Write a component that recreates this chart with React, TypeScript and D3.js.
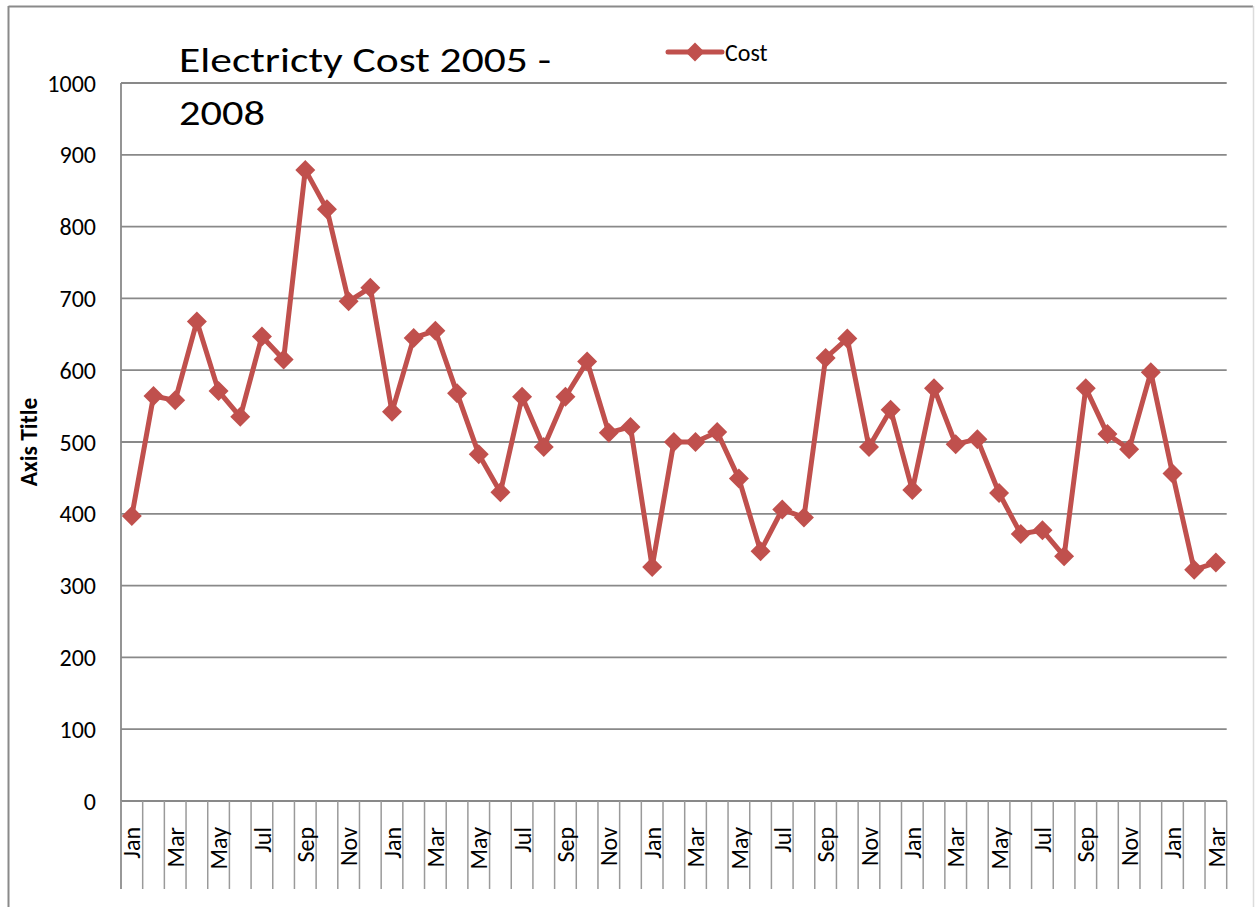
import React from "react";
import * as d3 from "d3";

const categories: string[] = [
  "Jan", "Feb", "Mar", "Apr", "May", "Jun", "Jul", "Aug", "Sep", "Oct", "Nov", "Dec",
  "Jan", "Feb", "Mar", "Apr", "May", "Jun", "Jul", "Aug", "Sep", "Oct", "Nov", "Dec",
  "Jan", "Feb", "Mar", "Apr", "May", "Jun", "Jul", "Aug", "Sep", "Oct", "Nov", "Dec",
  "Jan", "Feb", "Mar", "Apr", "May", "Jun", "Jul", "Aug", "Sep", "Oct", "Nov", "Dec",
  "Jan", "Feb", "Mar",
];

const cost: number[] = [
  397, 564, 558, 668, 571, 535, 647, 615, 879, 824, 696, 715,
  542, 645, 655, 568, 483, 430, 563, 493, 563, 612, 513, 521,
  326, 500, 500, 514, 449, 348, 406, 395, 617, 644, 493, 545,
  433, 575, 497, 504, 429, 372, 377, 341, 575, 511, 490, 597,
  456, 322, 332,
];

const yTicks: number[] = [0, 100, 200, 300, 400, 500, 600, 700, 800, 900, 1000];

const titleLines: string[] = ["Electricty Cost 2005 -", "2008"];
const seriesName = "Cost";
const yAxisTitle = "Axis Title";

const W = 1255;
const H = 907;
const PL = 121;
const PR = 1226.7;
const PT = 83;
const PB = 801;
const TICK_BOTTOM = 889;
const RED = "#C0504D";
const GRID = "#898989";
const FONT = "Carlito, Calibri, Lato, 'Open Sans', sans-serif";

const diamond = (r: number) => `M0,${-r}L${r},0L0,${r}L${-r},0Z`;

export default function App() {
  const x = d3.scaleBand<number>().domain(d3.range(categories.length)).range([PL, PR]).padding(0);
  const bw = x.bandwidth();
  const cx = (i: number) => (x(i) as number) + bw / 2;
  const y = d3.scaleLinear().domain([0, 1000]).range([PB, PT]);

  const line = d3
    .line<number>()
    .x((_, i) => cx(i))
    .y((d) => y(d));

  const boundaries = d3.range(categories.length + 1).map((i) => PL + i * bw);

  return (
    <div style={{ position: "absolute", left: 0, top: 0 }}>
      <svg width={W} height={H} style={{ display: "block", background: "#fff" }}>
        <rect x={0} y={0} width={W} height={H} fill="#fff" />
        {/* chart border */}
        <line x1={8.5} y1={6} x2={8.5} y2={H} stroke="#8a8a8a" strokeWidth={2} />
        <line x1={8.5} y1={6.5} x2={1253} y2={6.5} stroke="#8a8a8a" strokeWidth={2} />
        <line x1={1253.5} y1={6} x2={1253.5} y2={H} stroke="#dcdcdc" strokeWidth={1.5} />

        {/* gridlines */}
        {yTicks.map((t) => (
          <line key={t} x1={PL} x2={PR} y1={y(t)} y2={y(t)} stroke={GRID} strokeWidth={1.8} />
        ))}

        {/* y axis line */}
        <line x1={PL} x2={PL} y1={PT} y2={TICK_BOTTOM} stroke={GRID} strokeWidth={1.8} />

        {/* category boundary ticks */}
        {boundaries.map((bx, i) => (
          <line key={i} x1={bx} x2={bx} y1={PB} y2={TICK_BOTTOM} stroke="#9a9a9a" strokeWidth={1.5} />
        ))}

        {/* y tick labels */}
        {yTicks.map((t) => (
          <text
            key={t}
            x={96}
            y={y(t)}
            dy="0.36em"
            textAnchor="end"
            fontFamily={FONT}
            fontSize={24}
            fill="#000"
          >
            {t}
          </text>
        ))}

        {/* x labels (every other) */}
        {categories.map((c, i) =>
          i % 2 === 0 ? (
            <text
              key={i}
              transform={`translate(${cx(i)},827) rotate(-90)`}
              dy="0.36em"
              textAnchor="end"
              fontFamily={FONT}
              fontSize={24}
              fill="#000"
            >
              {c}
            </text>
          ) : null
        )}

        {/* axis title */}
        <text
          transform={`translate(29,442) rotate(-90)`}
          dy="0.36em"
          textAnchor="middle"
          fontFamily={FONT}
          fontWeight="bold"
          fontSize={23.5}
          fill="#000"
        >
          {yAxisTitle}
        </text>

        {/* series line */}
        <path
          d={line(cost) || ""}
          fill="none"
          stroke={RED}
          strokeWidth={5}
          strokeLinejoin="round"
          strokeLinecap="round"
        />
        {cost.map((v, i) => (
          <path key={i} d={diamond(10)} transform={`translate(${cx(i)},${y(v)})`} fill={RED} />
        ))}

        {/* title */}
        <text x={179} y={72} fontFamily={FONT} fontSize={35} fill="#000" textLength={372} lengthAdjust="spacingAndGlyphs">
          {titleLines[0]}
        </text>
        <text x={179} y={124.5} fontFamily={FONT} fontSize={35} fill="#000" textLength={86} lengthAdjust="spacingAndGlyphs">
          {titleLines[1]}
        </text>

        {/* legend */}
        <line x1={668} x2={722} y1={52} y2={52} stroke={RED} strokeWidth={5} strokeLinecap="round" />
        <path d={diamond(9.5)} transform="translate(695,52)" fill={RED} />
        <text x={725} y={52} dy="0.36em" fontFamily={FONT} fontSize={24} fill="#000">
          {seriesName}
        </text>
      </svg>
    </div>
  );
}
